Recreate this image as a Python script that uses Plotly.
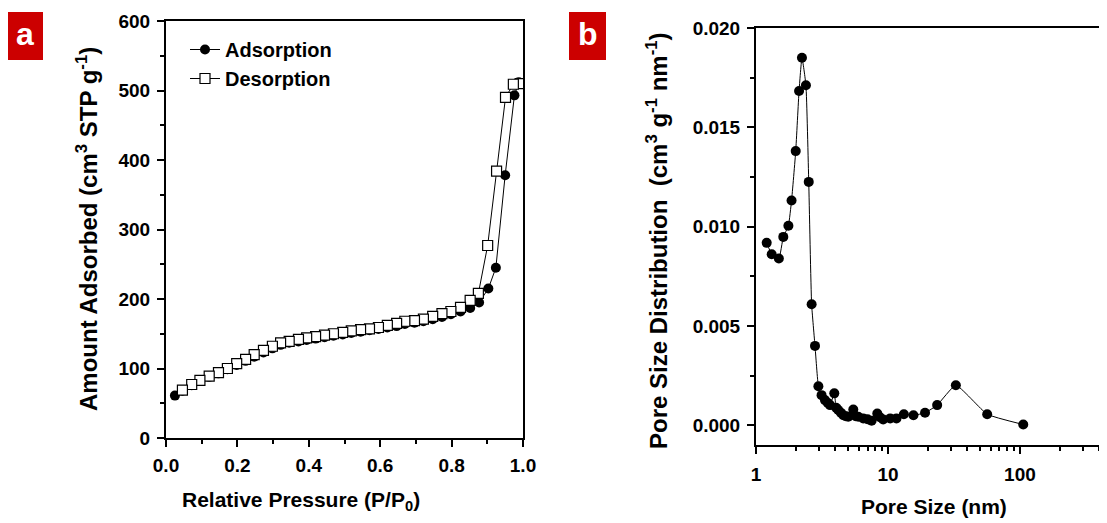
import plotly.graph_objects as go

# ---- Panel a: N2 isotherm ----
ads_x = [0.025, 0.046, 0.072, 0.095, 0.121, 0.147, 0.172, 0.198, 0.223, 0.247,
         0.273, 0.298, 0.321, 0.345, 0.371, 0.394, 0.419, 0.444, 0.469, 0.495,
         0.519, 0.545, 0.570, 0.595, 0.620, 0.646, 0.669, 0.696, 0.721, 0.747,
         0.773, 0.798, 0.825, 0.852, 0.877, 0.903, 0.924, 0.950, 0.976, 0.988]
ads_y = [61, 68, 76, 82, 88, 93, 99, 105, 111, 117,
         123, 129, 134, 137, 139, 141, 143, 145, 147, 149,
         151, 153, 155, 157, 159, 161, 164, 166, 168, 171,
         174, 178, 182, 187, 195, 215, 245, 378, 493, 512]

des_x = [0.992, 0.973, 0.951, 0.926, 0.901, 0.875, 0.852, 0.825, 0.798, 0.773,
         0.747, 0.721, 0.696, 0.669, 0.646, 0.620, 0.595, 0.570, 0.545, 0.519,
         0.495, 0.469, 0.444, 0.419, 0.394, 0.371, 0.345, 0.321, 0.298, 0.273,
         0.247, 0.223, 0.198, 0.172, 0.147, 0.121, 0.095, 0.072, 0.046]
des_y = [510, 509, 490, 384, 277, 208, 198, 188, 182, 179,
         175, 171, 169, 168, 165, 162, 159, 157, 156, 154,
         152, 150, 148, 146, 144, 142, 139, 137, 132, 126,
         120, 113, 107, 100, 94, 89, 83, 77, 69]

# ---- Panel b: pore size distribution ----
psd_x = [1.205, 1.315, 1.49, 1.61, 1.76, 1.86, 2.0, 2.12, 2.23, 2.39, 2.51,
         2.64, 2.80, 2.97, 3.14, 3.33, 3.50, 3.64, 3.92, 4.05, 4.2, 4.4, 4.59,
         4.8, 5.0, 5.46, 5.7, 5.96, 6.5, 7.0, 7.52, 8.3, 8.7, 9.2, 10.4,
         11.6, 13.2, 15.6, 19.1, 23.6, 32.7, 56.5, 106]
psd_y = [0.00918, 0.00861, 0.00839, 0.00948, 0.01004, 0.01131, 0.01380, 0.01683,
         0.01850, 0.01712, 0.01225, 0.00609, 0.00399, 0.00196, 0.00151, 0.00126,
         0.00112, 0.00101, 0.00160, 0.00088, 0.00076, 0.00062, 0.00050, 0.00045,
         0.00042, 0.00079, 0.00045, 0.00042, 0.00034, 0.00030, 0.00022, 0.00059,
         0.00040, 0.00029, 0.00034, 0.00034, 0.00055, 0.00050, 0.00062, 0.00101,
         0.00201, 0.00055, 0.00003]

# page body has an 8px margin: the figure is sized so it ends at the window edge
OFF = 8
W, H = 1107 - OFF, 523 - OFF
FONT = "Liberation Sans, Arial, sans-serif"

def px(x):
    return (x - OFF) / W

def py(y):
    return 1 - (y - OFF) / H

fig = go.Figure()

fig.add_trace(go.Scatter(
    x=ads_x, y=ads_y, mode="lines+markers", name="Adsorption",
    line=dict(color="black", width=1),
    marker=dict(symbol="circle", size=10, color="black"),
    xaxis="x", yaxis="y"))
fig.add_trace(go.Scatter(
    x=des_x, y=des_y, mode="lines+markers", name="Desorption",
    line=dict(color="black", width=1),
    marker=dict(symbol="square", size=10, color="white",
                line=dict(color="black", width=1.2)),
    xaxis="x", yaxis="y"))
fig.add_trace(go.Scatter(
    x=psd_x, y=psd_y, mode="lines+markers", name="PSD", showlegend=False,
    line=dict(color="black", width=1, shape="spline", smoothing=0.4),
    marker=dict(symbol="circle", size=10, color="black"),
    xaxis="x2", yaxis="y2"))

tickfont = dict(family=FONT, size=19, color="black", weight="bold")
common = dict(showline=True, linecolor="black", linewidth=2, mirror=True,
              ticks="outside", ticklen=7, tickwidth=2, tickcolor="black",
              showgrid=False, zeroline=False, tickfont=tickfont,
              automargin=False)
minor_style = dict(ticks="outside", ticklen=4, tickwidth=2, tickcolor="black")

fig.update_layout(
    width=W, height=H,
    margin=dict(l=0, r=0, t=0, b=0, autoexpand=False),
    paper_bgcolor="white", plot_bgcolor="white",
    xaxis=dict(domain=[px(166), px(523)], range=[0, 1.0],
               tickvals=[0, 0.2, 0.4, 0.6, 0.8, 1.0], tickformat=".1f",
               minor=dict(dtick=0.1, **minor_style), ticklabelstandoff=2,
               anchor="y", **common),
    yaxis=dict(domain=[py(438), py(21)], range=[0, 600],
               tickvals=[0, 100, 200, 300, 400, 500, 600],
               minor=dict(dtick=50, **minor_style), ticklabelstandoff=3,
               anchor="x", **common),
    xaxis2=dict(domain=[px(756), 1.0], type="log", range=[0, 2.66],
                tickvals=[1, 10, 100], ticktext=["1", "10", "100"],
                minor=dict(tickvals=[2, 3, 4, 5, 6, 7, 8, 9,
                                     20, 30, 40, 50, 60, 70, 80, 90,
                                     200, 300, 400], **minor_style),
                ticklabelstandoff=4,
                anchor="y2", **common),
    yaxis2=dict(domain=[py(445), py(28)], range=[-0.001, 0.020],
                tickvals=[0.0, 0.005, 0.010, 0.015, 0.020], tickformat=".3f",
                minor=dict(dtick=0.0025, **minor_style), ticklabelstandoff=3,
                anchor="x2", **common),
    legend=dict(x=px(185), y=py(30), xanchor="left", yanchor="top",
                bgcolor="rgba(0,0,0,0)",
                font=dict(family=FONT, size=20, color="black", weight="bold"),
                tracegroupgap=0),
    showlegend=True,
)

# panel label boxes
fig.add_shape(type="rect", xref="paper", yref="paper",
              x0=px(7), x1=px(43), y0=py(60), y1=py(12),
              fillcolor="#CC0000", line=dict(width=0))
fig.add_shape(type="rect", xref="paper", yref="paper",
              x0=px(569), x1=px(606), y0=py(60), y1=py(12),
              fillcolor="#CC0000", line=dict(width=0))

htitle = dict(family=FONT, size=21, color="black", weight="bold")
vtitle = dict(family=FONT, size=24, color="black", weight="bold")
annos = [
    dict(text="a", x=px(25), y=py(34), font=dict(family=FONT, size=32, color="white", weight="bold")),
    dict(text="b", x=px(587.5), y=py(34), font=dict(family=FONT, size=32, color="white", weight="bold")),
    dict(text="Relative Pressure (P/P<sub>0</sub>)", x=px(301), y=py(501), font=htitle),
    dict(text="Pore Size (nm)", x=px(934), y=py(506), font=htitle),
    dict(text="Amount Adsorbed (cm<sup>3</sup> STP g<sup>-1</sup>)", x=px(87), y=py(229),
         textangle=-90, font=vtitle),
    dict(text="Pore Size Distribution&nbsp; (cm<sup>3</sup> g<sup>-1</sup> nm<sup>-1</sup>)",
         x=px(657), y=py(241), textangle=-90, font=vtitle),
]
for a in annos:
    fig.add_annotation(xref="paper", yref="paper", showarrow=False,
                       xanchor="center", yanchor="middle", **a)

fig.write_html("out.html")
